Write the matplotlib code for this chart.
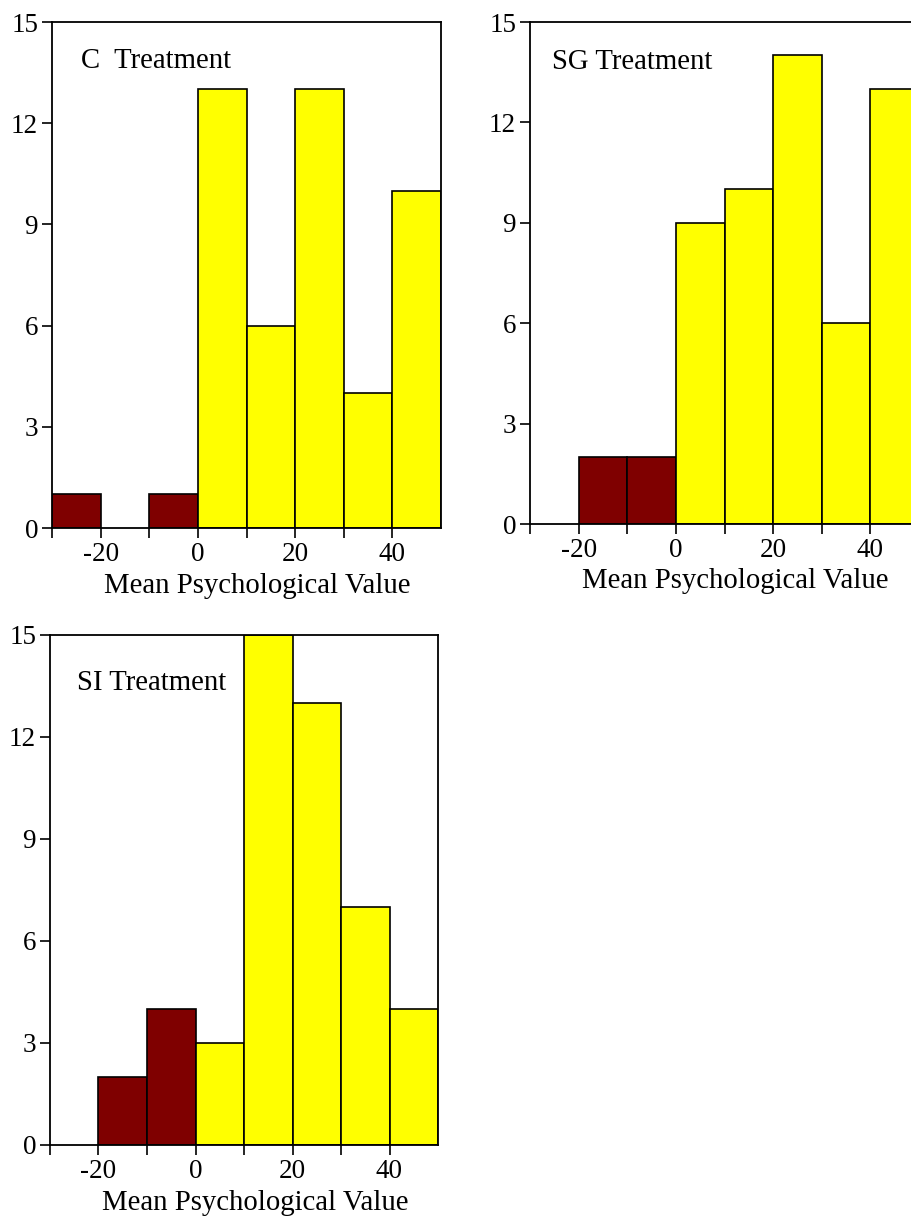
import numpy as np
import matplotlib
matplotlib.use("Agg")
import matplotlib.pyplot as plt

plt.rcParams['font.family'] = ['Liberation Serif', 'DejaVu Serif']
plt.rcParams['axes.unicode_minus'] = False

# histogram bins (left edges) and counts
bin_edges = [-30, -20, -10, 0, 10, 20, 30, 40, 50]
c_counts = [1, 0, 1, 13, 6, 13, 4, 10]
sg_counts = [0, 2, 2, 9, 10, 14, 6, 13]
si_counts = [0, 2, 4, 3, 15, 13, 7, 4]

panel_names = ['C  Treatment', 'SG Treatment', 'SI Treatment']
xlabel = 'Mean Psychological Value'
y_ticks = [0, 3, 6, 9, 12, 15]
x_ticks = [-20, 0, 20, 40]

neg_color = '#7f0000'
pos_color = '#ffff00'

W, H = 911, 1221
fig = plt.figure(figsize=(W / 100, H / 100), dpi=100)


def px_axes(left, top, right, bottom):
    return fig.add_axes([left / W, 1 - bottom / H, (right - left) / W, (bottom - top) / H])


def draw_hist(ax, counts, name, label_y):
    edges = np.array(bin_edges)
    lefts = edges[:-1]
    colors = [neg_color if l < 0 else pos_color for l in lefts]
    for l, c, col in zip(lefts, counts, colors):
        if c > 0:
            ax.bar(l, c, width=10, align='edge', color=col, edgecolor='black', linewidth=1.2)
    ax.set_xlim(-30, 50)
    ax.set_ylim(0, 15)
    ax.set_yticks(y_ticks)
    ax.set_xticks(x_ticks)
    ax.set_xticks([-30, -10, 10, 30], minor=True)
    ax.tick_params(axis='both', which='major', direction='out', length=7, width=1.2,
                   labelsize=19.5, pad=3)
    ax.tick_params(axis='x', which='minor', direction='out', length=7, width=1.2)
    for sp in ax.spines.values():
        sp.set_linewidth(1.3)
    ax.set_xlabel(xlabel, fontsize=20.7)
    ax.xaxis.set_label_coords(0.528, -0.088)
    ax.text(-24, label_y, name, fontsize=20.7, ha='left', va='center')


ax1 = px_axes(52, 22, 441, 528)
draw_hist(ax1, c_counts, panel_names[0], 13.85)

ax2 = px_axes(530, 22, 919, 524)
draw_hist(ax2, sg_counts, panel_names[1], 13.8)
ax2.texts[0].set_x(-25.5)

ax3 = px_axes(50, 635, 438, 1145)
draw_hist(ax3, si_counts, panel_names[2], 13.6)
ax3.texts[0].set_x(-24.5)

fig.savefig('out.png', dpi=100)
